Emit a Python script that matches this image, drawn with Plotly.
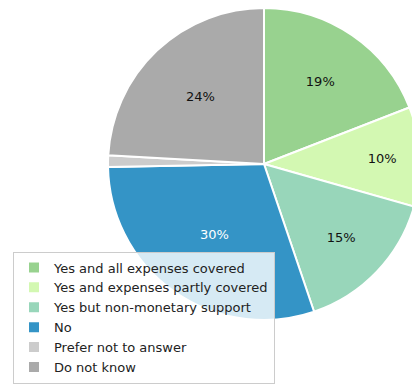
import plotly.graph_objects as go

# Survey answers and their shares (percent)
categories = [
    "Yes and all expenses covered",
    "Yes and expenses partly covered",
    "Yes but non-monetary support",
    "No",
    "Prefer not to answer",
    "Do not know",
]
shares = [19.1, 10.3, 15.4, 29.9, 1.2, 24.1]
colors = ["#98D28F", "#D3F8B2", "#98D6BA", "#3494C6", "#CCCCCC", "#AAAAAA"]
label_colors = ["#111111", "#111111", "#111111", "#FFFFFF", "#111111", "#111111"]
# the tiny slice carries no percentage label
label_templates = ["%{percent:.0%}"] * 4 + [""] + ["%{percent:.0%}"]

W, H = 424, 384

fig = go.Figure(
    go.Pie(
        labels=categories,
        values=shares,
        sort=False,
        direction="clockwise",
        rotation=0,
        marker=dict(colors=colors, line=dict(color="white", width=2)),
        texttemplate=label_templates,
        textposition="inside",
        insidetextorientation="horizontal",
        textfont=dict(family="DejaVu Sans", size=13, color=label_colors),
        hoverinfo="label+percent",
        domain=dict(x=[108 / W, 420 / W], y=[1 - 320 / H, 1 - 8 / H]),
    )
)

fig.update_layout(
    width=W,
    height=H,
    margin=dict(l=0, r=0, t=0, b=0, autoexpand=False),
    paper_bgcolor="white",
    font=dict(family="DejaVu Sans", size=13, color="#222222"),
    showlegend=True,
    legend=dict(
        x=13 / W,
        y=1 - 383.5 / H,
        xanchor="left",
        yanchor="bottom",
        bgcolor="rgba(255,255,255,0.8)",
        bordercolor="#CCCCCC",
        borderwidth=1,
        font=dict(family="DejaVu Sans", size=13, color="#222222"),
    ),
)

fig.write_html(
    "out.html",
    post_script="document.body.style.overflow='hidden';document.documentElement.style.overflow='hidden';",
)
